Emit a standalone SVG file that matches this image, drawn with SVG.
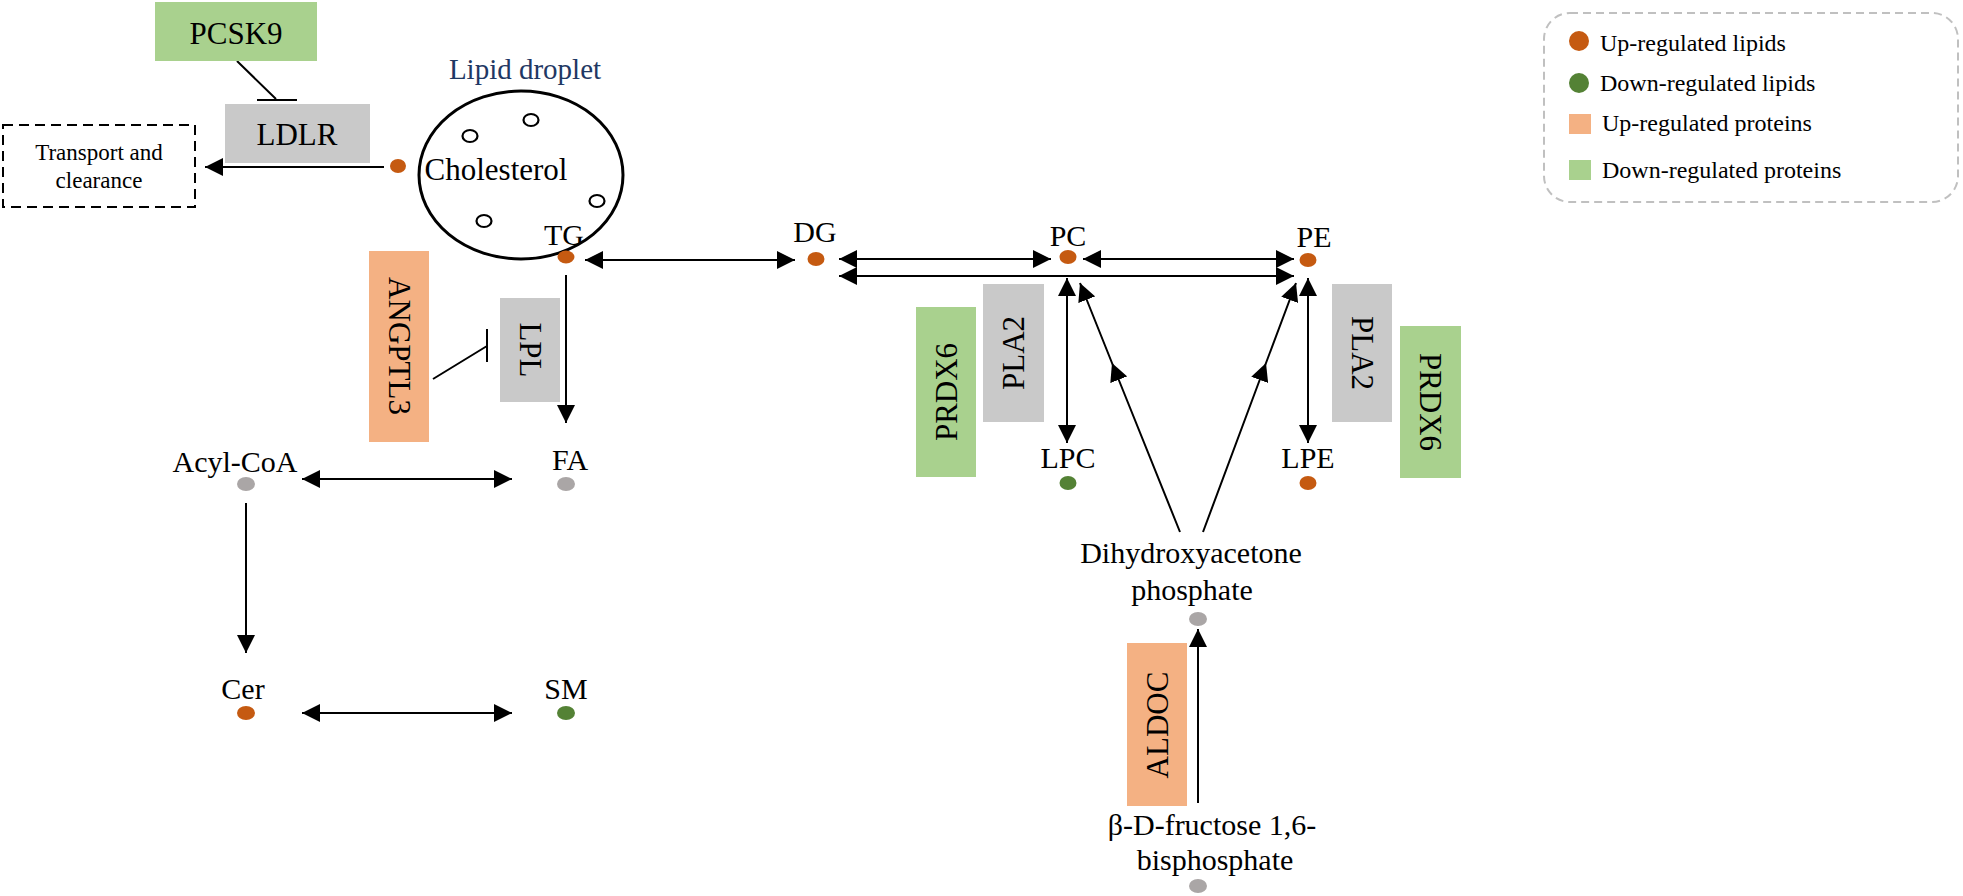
<svg xmlns="http://www.w3.org/2000/svg" width="1963" height="896" viewBox="0 0 1963 896">
<style>
text{font-family:"Liberation Serif","Times New Roman",serif;fill:#000}
.lbl{font-size:30px;text-anchor:middle}
.box{font-size:31px;text-anchor:middle;dominant-baseline:central}
.leg{font-size:24px}
.ln{stroke:#000;stroke-width:2;fill:none}
.up{fill:#c55a11}.dn{fill:#548235}.ns{fill:#aaa6a6}
.bup{fill:#f4b183}.bdn{fill:#a9d18e}.bgr{fill:#c9c9c9}
</style>
<defs>
<marker id="ah" markerUnits="userSpaceOnUse" markerWidth="18" markerHeight="18" refX="18" refY="9" orient="auto-start-reverse" viewBox="0 0 18 18"><path d="M0,0 L18,9 L0,18 z" fill="#000"/></marker>
</defs>

<g id="legend">
<rect x="1544" y="13" width="414" height="189" rx="26" fill="none" stroke="#c0c0c0" stroke-width="2" stroke-dasharray="8,5"/>
<circle cx="1579" cy="41" r="10" class="up"/><text class="leg" x="1600" y="51">Up-regulated  lipids</text>
<circle cx="1579" cy="83" r="10" class="dn"/><text class="leg" x="1600" y="91">Down-regulated  lipids</text>
<rect x="1569" y="114" width="22" height="20" class="bup"/><text class="leg" x="1602" y="131">Up-regulated  proteins</text>
<rect x="1569" y="160" width="22" height="20" class="bdn"/><text class="leg" x="1602" y="178">Down-regulated  proteins</text>
</g>

<g id="connectors">
<path class="ln" d="M237,61 L276,99 M257,100 L297,100"/>
<path class="ln" d="M384,167 L205,167" marker-end="url(#ah)"/>
<path class="ln" d="M433,379 L487,346 M487,329 L487,362"/>
<path class="ln" d="M566,275 L566,423" marker-end="url(#ah)"/>
<path class="ln" d="M585,260 L795,260" marker-start="url(#ah)" marker-end="url(#ah)"/>
<path class="ln" d="M839,259 L1051,259" marker-start="url(#ah)" marker-end="url(#ah)"/>
<path class="ln" d="M1083,259 L1294,259" marker-start="url(#ah)" marker-end="url(#ah)"/>
<path class="ln" d="M839,276 L1294,276" marker-start="url(#ah)" marker-end="url(#ah)"/>
<path class="ln" d="M1067,278 L1067,443" marker-start="url(#ah)" marker-end="url(#ah)"/>
<path class="ln" d="M1308,278 L1308,443" marker-start="url(#ah)" marker-end="url(#ah)"/>
<path class="ln" d="M1180,532 L1112,363 L1080,283" marker-mid="url(#ah)" marker-end="url(#ah)"/>
<path class="ln" d="M1203,532 L1266,363 L1296,283" marker-mid="url(#ah)" marker-end="url(#ah)"/>
<path class="ln" d="M302,479 L512,479" marker-start="url(#ah)" marker-end="url(#ah)"/>
<path class="ln" d="M246,503 L246,653" marker-end="url(#ah)"/>
<path class="ln" d="M302,713 L512,713" marker-start="url(#ah)" marker-end="url(#ah)"/>
<path class="ln" d="M1198,803 L1198,629" marker-end="url(#ah)"/>
</g>

<g id="pcsk9"><rect x="155" y="2" width="162" height="59" class="bdn"/><text class="box" x="236" y="33">PCSK9</text></g>
<g id="ldlr"><rect x="225" y="104" width="145" height="59" class="bgr"/><text class="box" x="297" y="134">LDLR</text></g>
<g id="transport"><rect x="3" y="125" width="192" height="82" fill="none" stroke="#000" stroke-width="2" stroke-dasharray="10,6"/>
<text x="99" y="160" font-size="23" text-anchor="middle">Transport  and</text>
<text x="99" y="188" font-size="23" text-anchor="middle">clearance</text></g>

<g id="lipid-droplet">
<text x="525" y="79" font-size="29" text-anchor="middle" style="fill:#1f3864">Lipid droplet</text>
<ellipse cx="521" cy="175" rx="102" ry="84" fill="none" stroke="#000" stroke-width="3"/>
<ellipse cx="470" cy="136" rx="7.5" ry="6" fill="none" stroke="#000" stroke-width="2.2"/>
<ellipse cx="531" cy="120" rx="7.5" ry="6" fill="none" stroke="#000" stroke-width="2.2"/>
<ellipse cx="597" cy="201" rx="7.5" ry="6" fill="none" stroke="#000" stroke-width="2.2"/>
<ellipse cx="484" cy="221" rx="7.5" ry="6" fill="none" stroke="#000" stroke-width="2.2"/>
</g>
<g id="cholesterol"><ellipse cx="398" cy="166" rx="8" ry="7" class="up"/><text x="496" y="180" font-size="31" text-anchor="middle">Cholesterol</text></g>
<g id="tg"><text class="lbl" x="564" y="245">TG</text><ellipse cx="566" cy="257" rx="8.5" ry="6.5" class="up"/></g>

<g id="angptl3"><rect x="369" y="251" width="60" height="191" class="bup"/><text class="box" transform="translate(399,346) rotate(90)">ANGPTL3</text></g>
<g id="lpl"><rect x="500" y="298" width="60" height="104" class="bgr"/><text class="box" transform="translate(530,350) rotate(90)">LPL</text></g>

<g id="dg"><text class="lbl" x="815" y="242">DG</text><ellipse cx="816" cy="259" rx="8.5" ry="7" class="up"/></g>
<g id="pc"><text class="lbl" x="1068" y="246">PC</text><ellipse cx="1068" cy="257" rx="8.5" ry="7" class="up"/></g>
<g id="pe"><text class="lbl" x="1314" y="247">PE</text><ellipse cx="1308" cy="260" rx="8.5" ry="7" class="up"/></g>
<g id="lpc"><text class="lbl" x="1068" y="468">LPC</text><ellipse cx="1068" cy="483" rx="8.5" ry="7" class="dn"/></g>
<g id="lpe"><text class="lbl" x="1308" y="468">LPE</text><ellipse cx="1308" cy="483" rx="8.5" ry="7" class="up"/></g>

<g id="prdx6-left"><rect x="916" y="307" width="60" height="170" class="bdn"/><text class="box" transform="translate(946,392) rotate(-90)">PRDX6</text></g>
<g id="pla2-left"><rect x="983" y="284" width="61" height="138" class="bgr"/><text class="box" transform="translate(1013,353) rotate(-90)">PLA2</text></g>
<g id="pla2-right"><rect x="1332" y="284" width="60" height="138" class="bgr"/><text class="box" transform="translate(1362,353) rotate(90)">PLA2</text></g>
<g id="prdx6-right"><rect x="1400" y="326" width="61" height="152" class="bdn"/><text class="box" transform="translate(1430,402) rotate(90)">PRDX6</text></g>

<g id="acyl-coa"><text class="lbl" x="235" y="472">Acyl-CoA</text><ellipse cx="246" cy="484" rx="9" ry="7" class="ns"/></g>
<g id="fa"><text class="lbl" x="570" y="470">FA</text><ellipse cx="566" cy="484" rx="9" ry="7" class="ns"/></g>
<g id="cer"><text class="lbl" x="243" y="699">Cer</text><ellipse cx="246" cy="713" rx="9" ry="7" class="up"/></g>
<g id="sm"><text class="lbl" x="566" y="699">SM</text><ellipse cx="566" cy="713" rx="9" ry="7" class="dn"/></g>

<g id="dhap"><text class="lbl" x="1191" y="563">Dihydroxyacetone</text><text class="lbl" x="1192" y="600">phosphate</text><ellipse cx="1198" cy="619" rx="9" ry="7" class="ns"/></g>
<g id="aldoc"><rect x="1127" y="643" width="60" height="163" class="bup"/><text class="box" transform="translate(1157,725) rotate(-90)">ALDOC</text></g>
<g id="fbp"><text class="lbl" x="1212" y="835">β-D-fructose 1,6-</text><text class="lbl" x="1215" y="870">bisphosphate</text><ellipse cx="1198" cy="886" rx="9" ry="7" class="ns"/></g>
</svg>
